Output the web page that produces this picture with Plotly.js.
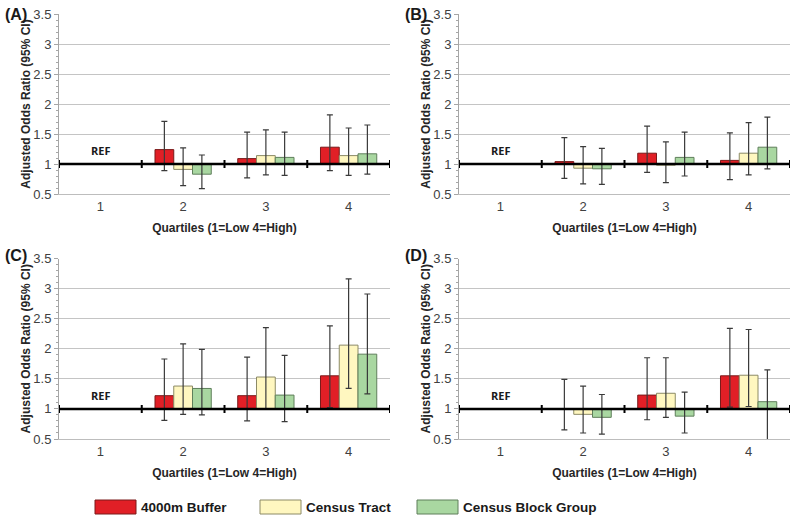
<!DOCTYPE html>
<html><head><meta charset="utf-8">
<script src="https://cdn.plot.ly/plotly-3.0.1.min.js"></script>
<style>html,body{margin:0;padding:0;background:#fff}#chart{width:795px;height:520px}</style>
</head><body><div id="chart"></div>
<script>
// ---- data ----
const quartiles = ['1', '2', '3', '4'];
const seriesNames = ['4000m Buffer', 'Census Tract', 'Census Block Group'];
const panelLabels = ['(A)', '(B)', '(C)', '(D)'];

// Panel A
const A_buffer = [null, 1.24, 1.09, 1.28], A_buffer_lo = [null, 0.89, 0.77, 0.89], A_buffer_hi = [null, 1.71, 1.53, 1.82];
const A_tract  = [null, 0.91, 1.14, 1.14], A_tract_lo  = [null, 0.64, 0.82, 0.81], A_tract_hi  = [null, 1.27, 1.57, 1.60];
const A_block  = [null, 0.83, 1.11, 1.17], A_block_lo  = [null, 0.59, 0.81, 0.83], A_block_hi  = [null, 1.15, 1.53, 1.65];
// Panel B
const B_buffer = [null, 1.04, 1.18, 1.06], B_buffer_lo = [null, 0.76, 0.86, 0.74], B_buffer_hi = [null, 1.44, 1.63, 1.52];
const B_tract  = [null, 0.93, 0.98, 1.18], B_tract_lo  = [null, 0.67, 0.69, 0.82], B_tract_hi  = [null, 1.29, 1.37, 1.69];
const B_block  = [null, 0.92, 1.11, 1.28], B_block_lo  = [null, 0.66, 0.80, 0.92], B_block_hi  = [null, 1.26, 1.53, 1.78];
// Panel C
const C_buffer = [null, 1.22, 1.22, 1.55], C_buffer_lo = [null, 0.81, 0.80, 1.02], C_buffer_hi = [null, 1.83, 1.86, 2.38];
const C_tract  = [null, 1.38, 1.53, 2.06], C_tract_lo  = [null, 0.91, 1.00, 1.34], C_tract_hi  = [null, 2.08, 2.35, 3.16];
const C_block  = [null, 1.34, 1.23, 1.91], C_block_lo  = [null, 0.90, 0.79, 1.25], C_block_hi  = [null, 1.99, 1.89, 2.91];
// Panel D
const D_buffer = [null, 1.00, 1.23, 1.55], D_buffer_lo = [null, 0.65, 0.82, 1.03], D_buffer_hi = [null, 1.49, 1.85, 2.34];
const D_tract  = [null, 0.91, 1.26, 1.56], D_tract_lo  = [null, 0.60, 0.86, 1.04], D_tract_hi  = [null, 1.38, 1.85, 2.32];
const D_block  = [null, 0.86, 0.88, 1.12], D_block_lo  = [null, 0.58, 0.60, 0.45], D_block_hi  = [null, 1.24, 1.28, 1.65];

const yTickVals = [0.5, 1, 1.5, 2, 2.5, 3, 3.5];
const yTickText = ['0.5', '1', '1.5', '2', '2.5', '3', '3.5'];

// ---- build ----
const panels = [
  [[A_buffer, A_buffer_lo, A_buffer_hi], [A_tract, A_tract_lo, A_tract_hi], [A_block, A_block_lo, A_block_hi]],
  [[B_buffer, B_buffer_lo, B_buffer_hi], [B_tract, B_tract_lo, B_tract_hi], [B_block, B_block_lo, B_block_hi]],
  [[C_buffer, C_buffer_lo, C_buffer_hi], [C_tract, C_tract_lo, C_tract_hi], [C_block, C_block_lo, C_block_hi]],
  [[D_buffer, D_buffer_lo, D_buffer_hi], [D_tract, D_tract_lo, D_tract_hi], [D_block, D_block_lo, D_block_hi]]
];
const fills = ['#e11f26', '#fff7c0', '#a9d7a1'];
const edges = ['#7a1a1a', '#8c8a66', '#5f7f5b'];
const W = 795, H = 520;
const xDom = [[59 / W, 390 / W], [459 / W, 790 / W]];
const yDom = [[(H - 194) / H, (H - 14) / H], [(H - 439) / H, (H - 258.5) / H]];
const FONT = 'Liberation Sans, Arial, sans-serif';

const traces = [];
const layout = {
  width: W, height: H, margin: {l: 0, r: 0, t: 0, b: 0},
  paper_bgcolor: '#fff', plot_bgcolor: '#fff',
  barmode: 'group', bargap: 0.32, bargroupgap: 0,
  hovermode: false, showlegend: false, shapes: [], annotations: []
};

panels.forEach((panel, p) => {
  const col = p % 2, row = Math.floor(p / 2);
  const n = p === 0 ? '' : String(p + 1);
  const xa = 'x' + n, ya = 'y' + n;
  panel.forEach((s, k) => {
    const [or, lo, hi] = s;
    traces.push({
      type: 'bar', name: seriesNames[k], x: quartiles,
      y: or.map(v => v == null ? null : v - 1), base: 1,
      marker: {color: fills[k], line: {color: edges[k], width: 1}},
      error_y: {
        type: 'data', symmetric: false, visible: true,
        array: or.map((v, i) => v == null ? null : hi[i] - v),
        arrayminus: or.map((v, i) => v == null ? null : v - lo[i]),
        color: '#3a3a3a', thickness: 1.2, width: 3
      },
      xaxis: xa, yaxis: ya, showlegend: false
    });
  });
  layout['xaxis' + n] = {
    domain: xDom[col], anchor: ya, type: 'category', range: [-0.5, 3.5],
    showgrid: false, zeroline: false, showline: true, linecolor: '#bdbdbd', linewidth: 1,
    ticks: '', tickfont: {family: FONT, size: 13, color: '#404040'},
    title: {text: 'Quartiles (1=Low 4=High)', standoff: 11,
            font: {family: FONT, size: 12, color: '#262626', weight: 'bold'}}
  };
  layout['yaxis' + n] = {
    domain: yDom[row], anchor: xa, range: [0.5, 3.5],
    tickmode: 'array', tickvals: yTickVals, ticktext: yTickText,
    showgrid: true, gridcolor: '#c4c4c4', gridwidth: 1, zeroline: false,
    showline: true, linecolor: '#a6a6a6', linewidth: 1,
    ticks: 'outside', ticklen: 4, tickcolor: '#a6a6a6',
    minor: {dtick: 0.1, tick0: 0.5, ticks: 'outside', ticklen: 2, tickcolor: '#a6a6a6', showgrid: false},
    tickfont: {family: FONT, size: 13, color: '#404040'},
    title: {text: 'Adjusted Odds Ratio (95% CI)', standoff: 0,
            font: {family: FONT, size: 12, color: '#262626', weight: 'bold'}}
  };
  // reference axis at OR = 1 with category boundary ticks
  layout.shapes.push({type: 'line', xref: xa, yref: ya, x0: -0.5, x1: 3.5, y0: 1, y1: 1,
                      line: {color: '#000', width: 2.5}, layer: 'above'});
  [-0.5, 0.5, 1.5, 2.5, 3.5].forEach(b => {
    layout.shapes.push({type: 'line', xref: xa, yref: ya, x0: b, x1: b,
      ysizemode: 'pixel', yanchor: 1, y0: -4, y1: 4,
      line: {color: '#000', width: 2}, layer: 'above'});
  });
  layout.annotations.push({xref: xa, yref: ya, x: 0, y: 1.22, text: 'REF', showarrow: false,
    font: {family: 'Open Sans, Noto Sans, sans-serif', size: 11, color: '#1a1a1a', weight: 'bold'}});
  layout.annotations.push({xref: 'paper', yref: 'paper', x: (col * 400 + 3) / W,
    y: row === 0 ? (H - 14) / H : (H - 255) / H, xanchor: 'left', yanchor: 'middle',
    text: panelLabels[p], showarrow: false,
    font: {family: FONT, size: 16, color: '#1a1a1a', weight: 'bold'}});
});

// legend: wide swatches with series names (as in the reference)
const legendLeft = [95, 260, 417];
seriesNames.forEach((name, k) => {
  const x0 = legendLeft[k];
  layout.shapes.push({type: 'rect', xref: 'paper', yref: 'paper',
    x0: x0 / W, x1: (x0 + 41) / W, y0: (H - 514) / H, y1: (H - 500) / H,
    fillcolor: fills[k], line: {color: edges[k], width: 1}});
  layout.annotations.push({xref: 'paper', yref: 'paper', x: (x0 + 44) / W, y: (H - 507) / H,
    xanchor: 'left', yanchor: 'middle', text: name, showarrow: false,
    font: {family: FONT, size: 13.5, color: '#1a1a1a', weight: 'bold'}});
});

Plotly.newPlot('chart', traces, layout, {staticPlot: true});
</script>
</body></html>
